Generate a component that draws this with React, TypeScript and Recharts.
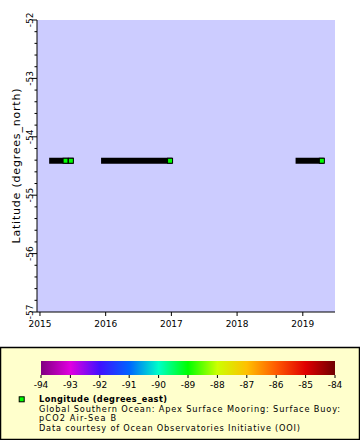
import { ComposedChart, XAxis, YAxis, CartesianGrid, Line, Scatter } from 'recharts'

// time (decimal years) where each continuous stretch of buoy records starts / ends
const segmentStart = [2015.14, 2015.93, 2018.89]
const segmentEnd = [2015.51, 2017.01, 2019.32]
const segmentLatitude = [-54.41, -54.41, -54.41]

// last visible (coloured) markers of each stretch
const markerTime = [2015.39, 2015.47, 2016.98, 2019.29]
const markerLatitude = [-54.41, -54.41, -54.41, -54.41]
const markerLongitude = [-89.3, -89.3, -89.3, -89.3]

const xTicks = [2015, 2016, 2017, 2018, 2019]
const yMajorTicks = [-57, -56, -55, -54, -53, -52]
const colorbarTicks = [-94, -93, -92, -91, -90, -89, -88, -87, -86, -85, -84]
const colorbarStops = [
  '#800080', '#e000e0', '#4010ff', '#0064ff', '#00ffc8', '#00ff00',
  '#ccff00', '#ffc000', '#ff5a00', '#e00000', '#700000',
]

const legendLines = [
  'Global Southern Ocean: Apex Surface Mooring: Surface Buoy:',
  'pCO2 Air-Sea B',
  'Data courtesy of Ocean Observatories Initiative (OOI)',
]
const legendLineWidths = [301, 77, 261]

const font = 'DejaVu Sans, sans-serif'
const xDomain = [2014.955, 2019.49]
const yDomain = [-57, -52]

// minor ticks every 0.2 degree between the labelled ones
const yTicks = yMajorTicks
  .slice(0, -1)
  .flatMap((v) => [0, 0.2, 0.4, 0.6, 0.8].map((d) => +(v + d).toFixed(1)))
  .concat([-52])

function lonColor(lon: number) {
  const f = (lon - colorbarTicks[0]) / (colorbarTicks[colorbarTicks.length - 1] - colorbarTicks[0])
  const i = Math.max(0, Math.min(colorbarStops.length - 1, Math.round(f * (colorbarStops.length - 1))))
  return colorbarStops[i]
}

const segments = segmentStart.map((s, i) => [
  { t: s, lat: segmentLatitude[i] },
  { t: segmentEnd[i], lat: segmentLatitude[i] },
])

const markers = markerTime.map((t, i) => ({ t, lat: markerLatitude[i], lon: markerLongitude[i] }))

function YTick({ x, y, payload }: any) {
  const major = yMajorTicks.includes(payload.value)
  return (
    <g>
      <line x1={x - (major ? 5 : 2.5)} x2={x} y1={y} y2={y} stroke="#000" />
      {major && (
        <text
          transform={`translate(${x - 4.5} ${y}) rotate(-90)`}
          textAnchor="middle"
          fontSize={9}
          fontFamily={font}
          fill="#000"
        >
          {payload.value}
        </text>
      )}
    </g>
  )
}

function XTick({ x, y, payload }: any) {
  return (
    <g>
      <line x1={x} x2={x} y1={y} y2={y + 4} stroke="#000" />
      <text x={x} y={y + 15} textAnchor="middle" fontSize={9} fontFamily={font} fill="#000">
        {payload.value}
      </text>
    </g>
  )
}

function YLabel({ viewBox }: any) {
  const cy = viewBox.y + viewBox.height / 2
  return (
    <text
      transform={`translate(19.5 ${cy}) rotate(-90)`}
      textAnchor="middle"
      fontSize={11}
      fontFamily={font}
      fill="#000"
      textLength={155}
      lengthAdjust="spacing"
    >
      Latitude (degrees_north)
    </text>
  )
}

function Marker({ cx, cy, payload }: any) {
  return <rect x={cx - 2.5} y={cy - 2.5} width={5} height={5} fill={lonColor(payload.lon)} stroke="#000" />
}

function ColorLegend() {
  const left = 41
  const width = 294
  const step = width / (colorbarTicks.length - 1)
  return (
    <svg width={360} height={95} style={{ display: 'block' }}>
      <defs>
        <linearGradient id="lonScale" x1="0" x2="1" y1="0" y2="0">
          {colorbarStops.map((c, i) => (
            <stop key={i} offset={i / (colorbarStops.length - 1)} stopColor={c} />
          ))}
        </linearGradient>
      </defs>
      <rect x={0.5} y={2.5} width={359} height={92} fill="#ffffcc" stroke="#000" strokeWidth={1.5} />
      <rect x={left} y={16} width={width} height={14} fill="url(#lonScale)" />
      {colorbarTicks.map((v, i) => (
        <g key={v}>
          <line x1={left + i * step} x2={left + i * step} y1={30} y2={33} stroke="#000" />
          <text x={left + i * step} y={43} textAnchor="middle" fontSize={9} fontFamily={font}>
            {v}
          </text>
        </g>
      ))}
      <rect x={19.2} y={51.8} width={5} height={5} fill={lonColor(markerLongitude[0])} stroke="#000" />
      <g fontFamily={font} fontSize={8.2} fill="#000">
        <text x={39} y={57} fontWeight="bold" textLength={128} lengthAdjust="spacing">
          Longitude (degrees_east)
        </text>
        {legendLines.map((s, i) => (
          <text key={i} x={39} y={66.5 + i * 9.5} textLength={legendLineWidths[i]} lengthAdjust="spacing">
            {s}
          </text>
        ))}
      </g>
    </svg>
  )
}

export default function App() {
  return (
    <div style={{ width: 360, height: 440, background: '#fff' }}>
      <style>{'body{margin:0}'}</style>
      <ComposedChart width={360} height={345} margin={{ top: 20, right: 25, bottom: 0, left: 0 }}>
        <CartesianGrid fill="#ccccff" horizontal={false} vertical={false} />
        <XAxis
          type="number"
          dataKey="t"
          domain={xDomain}
          allowDataOverflow
          ticks={xTicks}
          interval={0}
          height={33}
          tickSize={0}
          tickMargin={0}
          tickLine={false}
          axisLine={{ stroke: '#000' }}
          tick={<XTick />}
        />
        <XAxis
          xAxisId="frame"
          orientation="top"
          type="number"
          domain={xDomain}
          allowDataOverflow
          height={0}
          tick={false}
          tickLine={false}
          axisLine={{ stroke: '#000' }}
        />
        <YAxis
          type="number"
          dataKey="lat"
          domain={yDomain}
          allowDataOverflow
          ticks={yTicks}
          interval={0}
          width={37}
          tickSize={0}
          tickMargin={0}
          tickLine={false}
          axisLine={{ stroke: '#000' }}
          tick={<YTick />}
          label={<YLabel />}
        />
        <YAxis
          yAxisId="frame"
          orientation="right"
          type="number"
          domain={yDomain}
          allowDataOverflow
          width={0}
          tick={false}
          tickLine={false}
          axisLine={{ stroke: '#000' }}
        />
        {segments.map((seg, i) => (
          <Line
            key={i}
            data={seg}
            dataKey="lat"
            stroke="#000"
            strokeWidth={6}
            strokeLinecap="butt"
            dot={false}
            activeDot={false}
            type="linear"
            isAnimationActive={false}
          />
        ))}
        <Scatter data={markers} dataKey="lat" shape={<Marker />} isAnimationActive={false} />
      </ComposedChart>
      <ColorLegend />
    </div>
  )
}
